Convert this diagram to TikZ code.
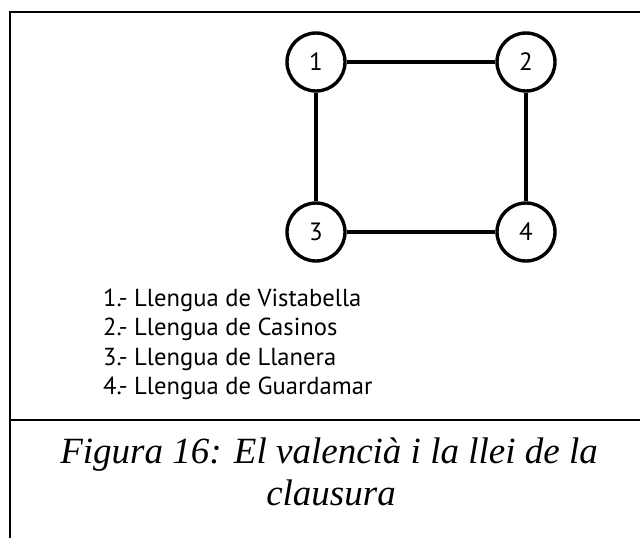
\documentclass[tikz,border=0pt]{standalone}
\usepackage{fontspec}
\setmainfont{Liberation Serif}
\newfontfamily\legendfont{PT Sans}
\begin{document}
\begin{tikzpicture}[x=1pt,y=-1pt,
  frameline/.style={line width=2.6pt},
  langnode/.style={circle,draw,line width=3.4pt,minimum size=58pt,inner sep=0pt,font=\legendfont\fontsize{25}{25}\selectfont},
  linkline/.style={line width=3.4pt},
  legendtext/.style={anchor=base west,inner sep=0pt,font=\legendfont\fontsize{24.6}{25}\selectfont},
  captiontext/.style={anchor=base,inner sep=0pt,font=\itshape\fontsize{37}{42}\selectfont}]
\useasboundingbox (0,0) rectangle (640,538);
\fill[white] (0,0) rectangle (640,538);
% frame
\draw[frameline] (10,539) -- (10,12) -- (641,12);
\draw[frameline] (10,420) -- (641,420);
% nodes
\node[langnode] (n1) at (316,62) {1};
\node[langnode] (n2) at (526,62) {2};
\node[langnode] (n3) at (316,232) {3};
\node[langnode] (n4) at (526,232) {4};
\draw[linkline] (n1) -- (n2);
\draw[linkline] (n2) -- (n4);
\draw[linkline] (n1) -- (n3);
\draw[linkline] (n3) -- (n4);
% legend
\node[legendtext] (l1) at (103,306) {1.- Llengua de Vistabella};
\node[legendtext] (l2) at (103,335.5) {2.- Llengua de Casinos};
\node[legendtext] (l3) at (103,365) {3.- Llengua de Llanera};
\node[legendtext] (l4) at (103,394.5) {4.- Llengua de Guardamar};
% caption
\node[captiontext] (c1) at (329,463) {Figura 16: El valencià i la llei de la};
\node[captiontext] (c2) at (331,505) {clausura};
\end{tikzpicture}
\end{document}
